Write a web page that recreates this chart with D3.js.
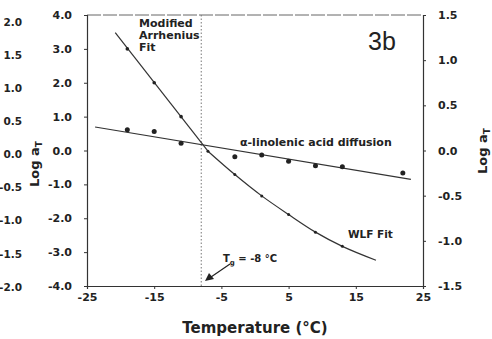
<html>
<head>
<title>Log aT vs temperature</title>
<script src="https://cdn.jsdelivr.net/npm/d3@7"></script>
<style>
  body { margin: 0; background: #fff; }
  text { font-family: "DejaVu Sans", sans-serif; font-weight: bold; fill: #222; }
</style>
</head>
<body>
<div id="chart"></div>
<script>
// values
var xTicks = [-25, -15, -5, 5, 15, 25];
var yLeftTicks = [-4, -3, -2, -1, 0, 1, 2, 3, 4];
var yRightTicks = [-1.5, -1.0, -0.5, 0.0, 0.5, 1.0, 1.5];
// tick labels of the neighbouring panel at the left edge
var otherPanelTicks = [2, 1.5, 1, 0.5, 0, -0.5, -1, -1.5, -2];

var arrhT = [-19, -15, -11];
var arrhLog = [3.0, 2.0, 1.0];
var arrhFitT = [-20.8, -7];
var arrhFitLog = [3.48, -0.02];

var wlfT = [-7, -3, 1, 5, 9, 13];
var wlfLog = [-0.02, -0.71, -1.34, -1.89, -2.41, -2.83];
var wlfFitT = [-7, -3, 1, 5, 9, 13, 18];
var wlfFitLog = [-0.02, -0.71, -1.34, -1.89, -2.41, -2.83, -3.24];

var linT = [-19, -15, -11, -3, 1, 5, 9, 13, 22];
var linLog = [0.23, 0.21, 0.08, -0.07, -0.05, -0.12, -0.17, -0.18, -0.25];
var linFitT = [-23.8, 23.2];
var linFitLog = [0.26, -0.32];

var Tg = -8;

var W = 492, H = 339;
var svg = d3.select("#chart").append("svg").attr("width", W).attr("height", H);

var x = d3.scaleLinear().domain([-25, 25]).range([87, 423]);
var yL = d3.scaleLinear().domain([-4, 4]).range([286, 15]);
var yR = d3.scaleLinear().domain([-1.5, 1.5]).range([286, 15]);
var yOther = d3.scaleLinear().domain([-2, 2]).range([287, 22]);

// frame
svg.append("line").attr("x1", 87).attr("x2", 423).attr("y1", 15).attr("y2", 15)
    .attr("stroke", "#666").attr("stroke-dasharray", "14,2");

// Tg dotted line
svg.append("line").attr("x1", x(Tg)).attr("x2", x(Tg)).attr("y1", 15).attr("y2", 286)
    .attr("stroke", "#777").attr("stroke-dasharray", "1.5,2");

// axes
var fmt = function(d) { return d.toFixed(1); };
var gL = svg.append("g").attr("transform", "translate(87,0)")
    .call(d3.axisLeft(yL).tickValues(yLeftTicks).tickSize(3).tickPadding(12).tickFormat(fmt));
var gR = svg.append("g").attr("transform", "translate(423,0)")
    .call(d3.axisRight(yR).tickValues(yRightTicks).tickSize(3).tickPadding(12).tickFormat(fmt));
var gB = svg.append("g").attr("transform", "translate(0,286)")
    .call(d3.axisBottom(x).tickValues(xTicks).tickSize(3).tickPadding(4).tickFormat(d3.format("d")));
[gL, gR, gB].forEach(function(g) {
    g.select(".domain").attr("stroke", "#333").attr("stroke-width", 1.2);
    g.selectAll(".tick line").attr("stroke", "#333");
    g.selectAll("text").attr("font-size", 11).attr("fill", "#222");
});
gB.selectAll("text").text(function(d) { return d; });

// neighbour panel labels
svg.selectAll(".other").data(otherPanelTicks).enter().append("text")
    .attr("x", 22).attr("y", function(d) { return yOther(d); })
    .attr("dy", "0.35em").attr("text-anchor", "end").attr("font-size", 10.5)
    .text(fmt);

// lines
var lineL = d3.line().x(function(d) { return x(d[0]); }).y(function(d) { return yL(d[1]); });
var lineR = d3.line().x(function(d) { return x(d[0]); }).y(function(d) { return yR(d[1]); });

svg.append("path").datum(d3.zip(arrhFitT, arrhFitLog)).attr("d", lineL)
    .attr("fill", "none").attr("stroke", "#333").attr("stroke-width", 1.2);
svg.append("path").datum(d3.zip(wlfFitT, wlfFitLog)).attr("d", lineL.curve(d3.curveCatmullRom))
    .attr("fill", "none").attr("stroke", "#333").attr("stroke-width", 1.2);
svg.append("path").datum(d3.zip(linFitT, linFitLog)).attr("d", lineR)
    .attr("fill", "none").attr("stroke", "#333").attr("stroke-width", 1.2);

// points
svg.selectAll(".arrh").data(d3.zip(arrhT, arrhLog)).enter().append("circle")
    .attr("cx", function(d) { return x(d[0]); }).attr("cy", function(d) { return yL(d[1]); })
    .attr("r", 1.8).attr("fill", "#222");
svg.selectAll(".wlf").data(d3.zip(wlfT, wlfLog)).enter().append("circle")
    .attr("cx", function(d) { return x(d[0]); }).attr("cy", function(d) { return yL(d[1]); })
    .attr("r", 1.5).attr("fill", "#222");
svg.selectAll(".lin").data(d3.zip(linT, linLog)).enter().append("circle")
    .attr("cx", function(d) { return x(d[0]); }).attr("cy", function(d) { return yR(d[1]); })
    .attr("r", 2.5).attr("fill", "#222");

// labels
var arr = svg.append("text").attr("x", 139).attr("y", 27).attr("font-size", 11);
["Modified", "Arrhenius", "Fit"].forEach(function(s, i) {
    arr.append("tspan").attr("x", 139).attr("dy", i ? 12 : 0).text(s);
});

svg.append("text").attr("x", 368).attr("y", 50).attr("font-size", 25)
    .style("font-family", "'Liberation Sans', Arial, sans-serif").style("font-weight", "normal")
    .text("3b");

svg.append("text").attr("x", 240).attr("y", 146).attr("font-size", 11)
    .text("\u03b1-linolenic acid diffusion");

svg.append("text").attr("x", 348).attr("y", 238).attr("font-size", 10.5).text("WLF Fit");

var tg = svg.append("text").attr("x", 223).attr("y", 262).attr("font-size", 10);
tg.append("tspan").text("T");
tg.append("tspan").attr("font-size", 7).attr("dy", 3).text("g");
tg.append("tspan").attr("dy", -3).text(" = -8 \u00b0C");

// arrow to Tg
svg.append("line").attr("x1", 230).attr("y1", 264).attr("x2", 211).attr("y2", 277)
    .attr("stroke", "#222").attr("stroke-width", 1.2);
svg.append("path").attr("d", "M205,281 L209,273 L214,279 Z").attr("fill", "#222");

svg.append("text").attr("x", 255).attr("y", 333).attr("text-anchor", "middle")
    .attr("font-size", 15).text("Temperature (\u00b0C)");

function logLabel(tx, ty) {
    var t = svg.append("text").attr("transform", "translate(" + tx + "," + ty + ") rotate(-90)")
        .attr("text-anchor", "middle").attr("font-size", 13);
    t.append("tspan").text("Log a");
    t.append("tspan").attr("font-size", 9).attr("dy", 3).text("T");
}
logLabel(39, 164);
logLabel(487, 151);
</script>
</body>
</html>
